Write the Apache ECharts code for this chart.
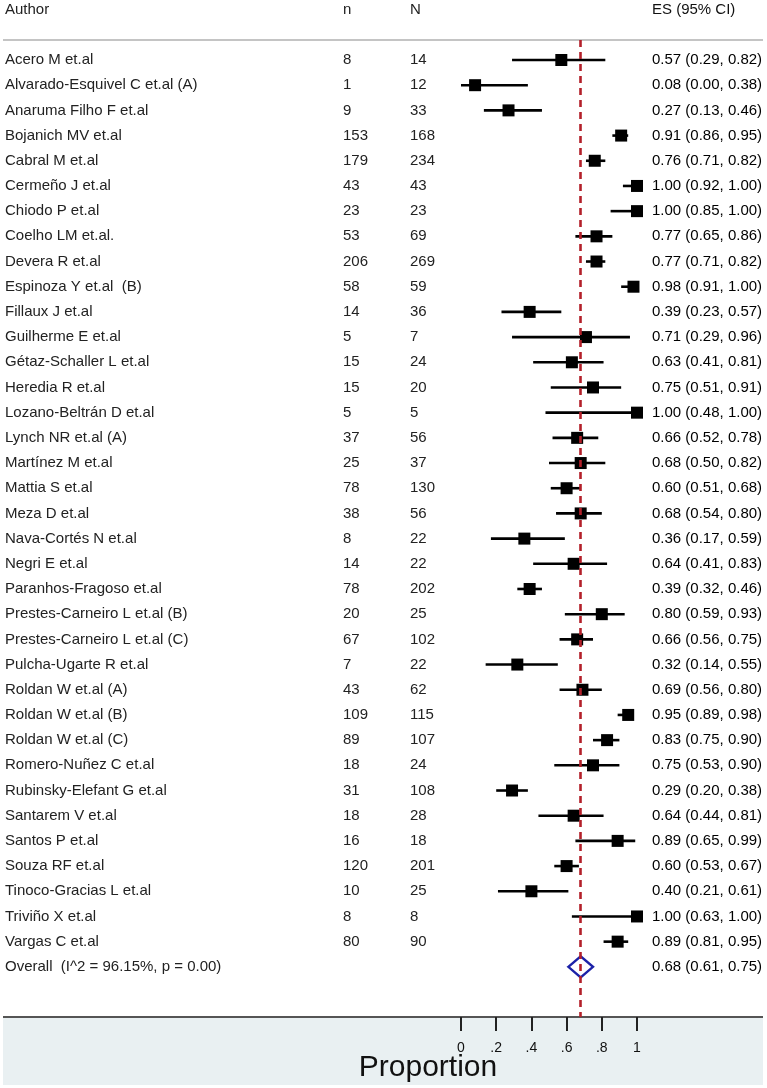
<!DOCTYPE html>
<html>
<head>
<meta charset="utf-8">
<script src="https://cdn.jsdelivr.net/npm/echarts@6/dist/echarts.min.js"></script>
<style>
html,body{margin:0;padding:0;background:#fff;}
#chart{width:767px;height:1088px;}
</style>
</head>
<body>
<div id="chart"></div>
<script>
// ---- data ----
const authors = [
  "Acero M et.al",
  "Alvarado-Esquivel C et.al (A)",
  "Anaruma Filho F et.al",
  "Bojanich MV et.al",
  "Cabral M et.al",
  "Cermeño J et.al",
  "Chiodo P et.al",
  "Coelho LM et.al.",
  "Devera R et.al",
  "Espinoza Y et.al  (B)",
  "Fillaux J et.al",
  "Guilherme E et.al",
  "Gétaz-Schaller L et.al",
  "Heredia R et.al",
  "Lozano-Beltrán D et.al",
  "Lynch NR et.al (A)",
  "Martínez M et.al",
  "Mattia S et.al",
  "Meza D et.al",
  "Nava-Cortés N et.al",
  "Negri E et.al",
  "Paranhos-Fragoso et.al",
  "Prestes-Carneiro L et.al (B)",
  "Prestes-Carneiro L et.al (C)",
  "Pulcha-Ugarte R et.al",
  "Roldan W et.al (A)",
  "Roldan W et.al (B)",
  "Roldan W et.al (C)",
  "Romero-Nuñez C et.al",
  "Rubinsky-Elefant G et.al",
  "Santarem V et.al",
  "Santos P et.al",
  "Souza RF et.al",
  "Tinoco-Gracias L et.al",
  "Triviño X et.al",
  "Vargas C et.al"
];
const nSmall = [8,1,9,153,179,43,23,53,206,58,14,5,15,15,5,37,25,78,38,8,14,78,20,67,7,43,109,89,18,31,18,16,120,10,8,80];
const nTotal = [14,12,33,168,234,43,23,69,269,59,36,7,24,20,5,56,37,130,56,22,22,202,25,102,22,62,115,107,24,108,28,18,201,25,8,90];
const esVal = [0.57,0.08,0.27,0.91,0.76,1.00,1.00,0.77,0.77,0.98,0.39,0.71,0.63,0.75,1.00,0.66,0.68,0.60,0.68,0.36,0.64,0.39,0.80,0.66,0.32,0.69,0.95,0.83,0.75,0.29,0.64,0.89,0.60,0.40,1.00,0.89];
const ciLow = [0.29,0.00,0.13,0.86,0.71,0.92,0.85,0.65,0.71,0.91,0.23,0.29,0.41,0.51,0.48,0.52,0.50,0.51,0.54,0.17,0.41,0.32,0.59,0.56,0.14,0.56,0.89,0.75,0.53,0.20,0.44,0.65,0.53,0.21,0.63,0.81];
const ciHigh = [0.82,0.38,0.46,0.95,0.82,1.00,1.00,0.86,0.82,1.00,0.57,0.96,0.81,0.91,1.00,0.78,0.82,0.68,0.80,0.59,0.83,0.46,0.93,0.75,0.55,0.80,0.98,0.90,0.90,0.38,0.81,0.99,0.67,0.61,1.00,0.95];
const overallLabel = "Overall  (I^2 = 96.15%, p = 0.00)";
const overall = {es: 0.68, lo: 0.61, hi: 0.75};
const headers = ["Author", "n", "N", "ES (95% CI)"];
const tickLabels = ["0", ".2", ".4", ".6", ".8", "1"];
const axisTitle = "Proportion";

// ---- layout ----
const W = 767, H = 1088;
const x0px = 461, unitPx = 176;           // pixel of proportion 0, px per unit
const toV = px => (px - x0px) / unitPx;   // pixel -> proportion units
const colAuthor = toV(5), colN = toV(343), colNN = toV(410), colES = toV(652);
const gridTop = 40, gridBottomPx = 1017;
const rowPx = 25.19, firstRowPx = 60;
const yMin = -(firstRowPx - gridTop) / rowPx;
const yMax = yMin + (gridBottomPx - gridTop) / rowPx;
const overallRow = authors.length;
const FONT = '"Liberation Sans", Arial, sans-serif';

const fmt = v => v.toFixed(2);
const esText = authors.map((a, i) => `${fmt(esVal[i])} (${fmt(ciLow[i])}, ${fmt(ciHigh[i])})`);
esText.push(`${fmt(overall.es)} (${fmt(overall.lo)}, ${fmt(overall.hi)})`);
const leftText = authors.concat([overallLabel]);

function textSeries(colX, texts, size, weight, color) {
  return {
    type: 'custom', xAxisIndex: 0, yAxisIndex: 0, z: 3,
    data: texts.map((t, i) => [colX, i]),
    renderItem: (params, api) => {
      const c = api.coord([api.value(0), api.value(1)]);
      return {
        type: 'text', x: c[0], y: c[1],
        style: { text: texts[params.dataIndex], fill: color, fontSize: size, fontWeight: weight,
                 fontFamily: FONT, align: 'left', verticalAlign: 'middle' }
      };
    }
  };
}

const chart = echarts.init(document.getElementById('chart'), null, {renderer: 'canvas', width: W, height: H});

const option = {
  backgroundColor: '#ffffff',
  animation: false,
  grid: [
    {left: 0, width: W, top: gridTop, height: gridBottomPx - gridTop},
    {left: x0px, width: unitPx, top: gridBottomPx - 1, height: 1}
  ],
  xAxis: [
    {gridIndex: 0, type: 'value', min: toV(0), max: toV(W), show: false},
    {gridIndex: 1, type: 'value', min: 0, max: 1, interval: 0.2, position: 'bottom',
     axisLine: {show: false}, splitLine: {show: false},
     axisTick: {show: true, inside: false, length: 14, lineStyle: {color: '#222', width: 2}},
     axisLabel: {show: true, inside: false, margin: 24, color: '#111', fontSize: 14, fontFamily: FONT,
                 formatter: v => tickLabels[Math.round(v * 5)]}}
  ],
  yAxis: [
    {gridIndex: 0, type: 'value', inverse: true, min: yMin, max: yMax, show: false},
    {gridIndex: 1, type: 'value', show: false}
  ],
  graphic: [
    {type: 'rect', shape: {x: 3, y: gridBottomPx, width: 760, height: 68}, style: {fill: '#e9f0f2'}, z: -10},
    {type: 'line', shape: {x1: 3, y1: gridBottomPx, x2: 763, y2: gridBottomPx}, style: {stroke: '#555', lineWidth: 2}},
    {type: 'line', shape: {x1: 3, y1: 40, x2: 763, y2: 40}, style: {stroke: '#c4c4c4', lineWidth: 2}},
    {type: 'text', x: 5, y: 10, style: {text: headers[0], fontSize: 15, fontFamily: FONT, fill: '#222', verticalAlign: 'middle'}},
    {type: 'text', x: 343, y: 10, style: {text: headers[1], fontSize: 15, fontFamily: FONT, fill: '#222', verticalAlign: 'middle'}},
    {type: 'text', x: 410, y: 10, style: {text: headers[2], fontSize: 15, fontFamily: FONT, fill: '#222', verticalAlign: 'middle'}},
    {type: 'text', x: 652, y: 10, style: {text: headers[3], fontSize: 15, fontFamily: FONT, fill: '#111', verticalAlign: 'middle'}},
    {type: 'text', x: 428, y: 1068, style: {text: axisTitle, fontSize: 30, fontFamily: FONT, fill: '#111', align: 'center', verticalAlign: 'middle'}}
  ],
  series: [
    // CI lines + squares
    {
      type: 'custom', xAxisIndex: 0, yAxisIndex: 0, z: 2,
      data: authors.map((a, i) => [esVal[i], ciLow[i], ciHigh[i], i]),
      renderItem: (params, api) => {
        const row = api.value(3);
        const pE = api.coord([api.value(0), row]);
        const pL = api.coord([api.value(1), row]);
        const pH = api.coord([api.value(2), row]);
        const s = 12;
        return {
          type: 'group',
          children: [
            {type: 'line', shape: {x1: pL[0], y1: pL[1], x2: pH[0], y2: pH[1]}, style: {stroke: '#000', lineWidth: 2.6}},
            {type: 'rect', shape: {x: pE[0] - s / 2, y: pE[1] - s / 2, width: s, height: s}, style: {fill: '#000'}}
          ]
        };
      }
    },
    // overall diamond
    {
      type: 'custom', xAxisIndex: 0, yAxisIndex: 0, z: 2,
      data: [[overall.es, overall.lo, overall.hi, overallRow]],
      renderItem: (params, api) => {
        const row = api.value(3);
        const pE = api.coord([api.value(0), row]);
        const pL = api.coord([api.value(1), row]);
        const pH = api.coord([api.value(2), row]);
        const h = 10.5;
        return {
          type: 'polygon',
          shape: {points: [[pL[0], pL[1]], [pE[0], pE[1] - h], [pH[0], pH[1]], [pE[0], pE[1] + h]]},
          style: {fill: 'none', stroke: '#1c22a8', lineWidth: 2.4}
        };
      }
    },
    // reference line at overall estimate
    {
      type: 'line', xAxisIndex: 0, yAxisIndex: 0, data: [], z: 5,
      markLine: {
        silent: true, symbol: 'none', label: {show: false},
        lineStyle: {color: '#b3202a', width: 2.6, type: [7, 5]},
        data: [{xAxis: overall.es}]
      }
    },
    textSeries(colAuthor, leftText, 15, 'normal', '#222'),
    textSeries(colN, nSmall.map(String), 15, 'normal', '#222'),
    textSeries(colNN, nTotal.map(String), 15, 'normal', '#222'),
    textSeries(colES, esText, 15, 'normal', '#000')
  ]
};
chart.setOption(option);
</script>
</body>
</html>
